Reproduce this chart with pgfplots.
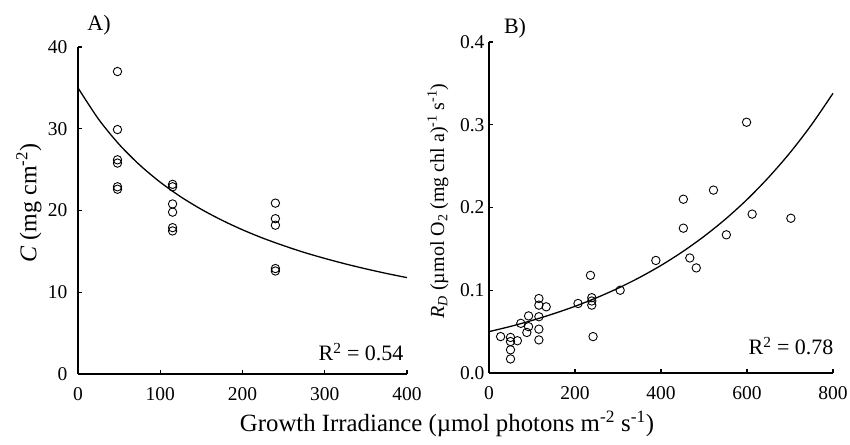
\documentclass[border=0pt]{standalone}
\usepackage{pgfplots}
\pgfplotsset{compat=1.18}
\usepackage{fontspec}
\setmainfont{Liberation Serif}

\newcommand{\tickfont}{\fontsize{19.5}{19.5}\selectfont}
\newcommand{\labfont}{\fontsize{24}{26}\selectfont}
\newcommand{\annfont}{\fontsize{22}{24}\selectfont}

\pgfplotsset{
  panel/.style={
    scale only axis,
    axis x line*=bottom,
    axis y line*=left,
    axis line style={line width=1.3pt},
    tick align=inside,
    major tick length=4pt,
    tick style={line width=1.1pt, black},
    ticklabel style={font=\tickfont},
    xticklabel style={yshift=-10pt},
    /pgf/number format/assume math mode=true,
    anchor=south west,
    clip=false,
  },
  pts/.style={only marks, mark=o, mark size=4.2pt, mark options={line width=0.9pt, black}},
  fit/.style={black, line width=1.3pt, smooth, no marks},
}

\begin{document}
\begin{tikzpicture}
\useasboundingbox (0pt,0pt) rectangle (850pt,444pt);

% panel A
\begin{axis}[panel,
  at={(78pt,70pt)}, width=329pt, height=327pt,
  xmin=0, xmax=400, ymin=0, ymax=40,
  xtick={0,100,200,300,400}, ytick={0,10,20,30,40},
  yticklabel style={xshift=-7pt},
]
\addplot[pts] coordinates {
  (48,37.0) (48,29.9) (48,26.2) (48,25.8) (48,22.9) (48,22.6)
  (115,23.2) (115,22.9) (115,20.8) (115,19.8) (115,17.9) (115,17.5)
  (240,20.9) (240,19.0) (240,18.2) (240,12.9) (240,12.6)
};
\addplot[fit] coordinates {
  (0,35) (25,31.17) (50,28.09) (75,25.57) (100,23.46) (125,21.67)
  (150,20.14) (175,18.81) (200,17.64) (225,16.61) (250,15.70)
  (275,14.87) (300,14.14) (325,13.47) (350,12.86) (375,12.30) (400,11.79)
};
\end{axis}

% panel B
\begin{axis}[panel,
  at={(489pt,71pt)}, width=344pt, height=331pt,
  xmin=0, xmax=800, ymin=0, ymax=0.4,
  xtick={0,200,400,600,800}, ytick={0,0.1,0.2,0.3,0.4},
  yticklabels={0.0,0.1,0.2,0.3,0.4},
  yticklabel style={xshift=-1pt},
]
\addplot[pts] coordinates {
  (27,0.044) (50,0.043) (50,0.038) (50,0.028) (50,0.017) (66,0.039)
  (74,0.060) (88,0.049) (92,0.069) (92,0.056)
  (116,0.090) (116,0.082) (116,0.068) (116,0.053) (116,0.040)
  (133,0.080) (207,0.084) (236,0.118) (239,0.091) (239,0.087) (239,0.082)
  (242,0.044) (305,0.100) (388,0.136) (452,0.210) (452,0.175)
  (467,0.139) (482,0.127) (522,0.221) (552,0.167) (599,0.303)
  (612,0.192) (702,0.187)
};
\addplot[fit] coordinates {
  (0,0.050) (50,0.0563) (100,0.0635) (150,0.0716) (200,0.0806)
  (250,0.0909) (300,0.1024) (350,0.1154) (400,0.1300) (450,0.1465)
  (500,0.1651) (550,0.1860) (600,0.2096) (650,0.2363) (700,0.2662)
  (750,0.3000) (800,0.3380)
};
\end{axis}

% annotations
\node[font=\annfont] at (99pt,419pt) {A)};
\node[font=\annfont] at (515pt,416pt) {B)};
\node[font=\annfont, anchor=base east] at (407pt,83pt) {R\textsuperscript{2} = 0.54};
\node[font=\annfont, anchor=base east] at (837pt,89pt) {R\textsuperscript{2} = 0.78};
\node[font=\labfont, rotate=90] at (29pt,241pt) {\textit{C} (mg cm\textsuperscript{-2})};
\node[font=\fontsize{20}{22}\selectfont, rotate=90] at (438pt,243pt) {\textit{R\textsubscript{D}} (µmol O\textsubscript{2} (mg chl a)\textsuperscript{-1} s\textsuperscript{-1})};
\node[font=\fontsize{24.8}{26}\selectfont] at (447pt,20pt) {Growth Irradiance (µmol photons m\textsuperscript{-2} s\textsuperscript{-1})};
\end{tikzpicture}
\end{document}
